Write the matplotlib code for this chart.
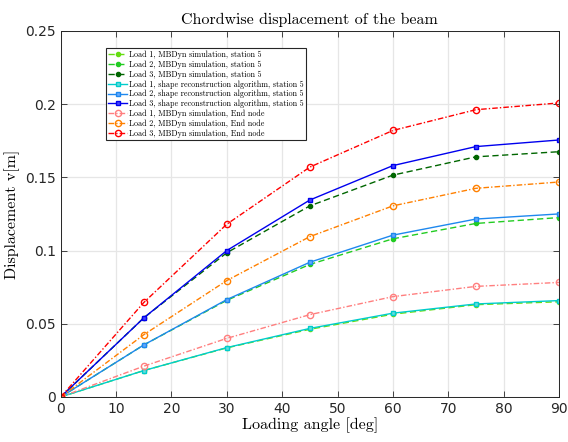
import numpy as np
import matplotlib
matplotlib.use("Agg")
import matplotlib.pyplot as plt

# loading angles [deg]
angle = [0, 15, 30, 45, 60, 75, 90]

# MBDyn simulation, station 5
mb_load1 = [0, 0.0180, 0.0335, 0.0462, 0.0565, 0.0630, 0.0650]
mb_load2 = [0, 0.0355, 0.0660, 0.0905, 0.1080, 0.1185, 0.1225]
mb_load3 = [0, 0.0540, 0.0985, 0.1305, 0.1515, 0.1640, 0.1675]

# shape reconstruction algorithm, station 5
rc_load1 = [0, 0.0180, 0.0337, 0.0468, 0.0572, 0.0635, 0.0658]
rc_load2 = [0, 0.0355, 0.0665, 0.0920, 0.1105, 0.1215, 0.1250]
rc_load3 = [0, 0.0540, 0.1000, 0.1345, 0.1580, 0.1710, 0.1755]

# MBDyn simulation, end node
en_load1 = [0, 0.0210, 0.0400, 0.0562, 0.0685, 0.0755, 0.0782]
en_load2 = [0, 0.0425, 0.0795, 0.1095, 0.1305, 0.1425, 0.1468]
en_load3 = [0, 0.0645, 0.1180, 0.1570, 0.1820, 0.1962, 0.2008]

labels = [
    "Load 1, MBDyn simulation, station 5",
    "Load 2, MBDyn simulation, station 5",
    "Load 3, MBDyn simulation, station 5",
    "Load 1, shape reconstruction algorithm, station 5",
    "Load 2, shape reconstruction algorithm, station 5",
    "Load 3, shape reconstruction algorithm, station 5",
    "Load 1, MBDyn simulation, End node",
    "Load 2, MBDyn simulation, End node",
    "Load 3, MBDyn simulation, End node",
]

dash = (0, (4.5, 2.5))
dashdot = (0, (4, 1.5, 1, 1.5))

fig = plt.figure(figsize=(5.68, 4.42), dpi=100)
ax = fig.add_axes([0.107, 0.102, 0.877, 0.828])

ax.plot(angle, mb_load1, ls=dash, marker='o', color='#66dd11', ms=3, lw=1, label=labels[0])
ax.plot(angle, mb_load2, ls=dash, marker='o', color='#22cc22', ms=3, lw=1, label=labels[1])
ax.plot(angle, mb_load3, ls=dash, marker='o', color='#006600', ms=3, lw=1, label=labels[2])
ax.plot(angle, rc_load1, '-s', color='#00cccc', mfc='#66dddd', ms=3.5, lw=1, label=labels[3])
ax.plot(angle, rc_load2, '-s', color='#1e88ee', mfc='#66aaff', ms=3.5, lw=1, label=labels[4])
ax.plot(angle, rc_load3, '-s', color='#0000ee', mfc='#4444ff', ms=3.5, lw=1, label=labels[5])
ax.plot(angle, en_load1, ls=dashdot, marker='o', color='#ff7f7f', mfc='none', ms=4.5, lw=1, label=labels[6])
ax.plot(angle, en_load2, ls=dashdot, marker='o', color='#ff8000', mfc='none', ms=4.5, lw=1, label=labels[7])
ax.plot(angle, en_load3, ls=dashdot, marker='o', color='#ff0000', mfc='none', ms=4.5, lw=1, label=labels[8])

ax.set_xlim(0, 90)
ax.set_ylim(0, 0.25)
ax.set_xticks(np.arange(0, 91, 10))
ax.set_yticks([0, 0.05, 0.1, 0.15, 0.2, 0.25])
ax.set_yticklabels(['0', '0.05', '0.1', '0.15', '0.2', '0.25'])
ax.tick_params(direction='in', top=True, right=True, labelsize=10,
               colors='#262626', length=4, width=0.6)
ax.grid(True, color='#e6e6e6', lw=0.9)
for s in ax.spines.values():
    s.set_color('#262626')
    s.set_linewidth(0.7)

ax.set_title("Chordwise displacement of the beam", fontfamily='cmr10', fontsize=11.5, pad=5)
ax.set_xlabel("Loading angle [deg]", fontfamily='cmr10', fontsize=11.5, labelpad=1)
ax.set_ylabel("Displacement v[m]", fontfamily='cmr10', fontsize=11.5, labelpad=4)

leg = ax.legend(loc='upper left', bbox_to_anchor=(0.09, 0.953),
                prop={'family': 'cmr10', 'size': 5.8}, fancybox=False,
                framealpha=1, edgecolor='#262626', handlelength=2.4,
                labelspacing=0.18, borderpad=0.3, handletextpad=0.2,
                borderaxespad=0, shadow=False)
leg.get_frame().set_linewidth(0.8)

fig.savefig("out.png", dpi=100)
